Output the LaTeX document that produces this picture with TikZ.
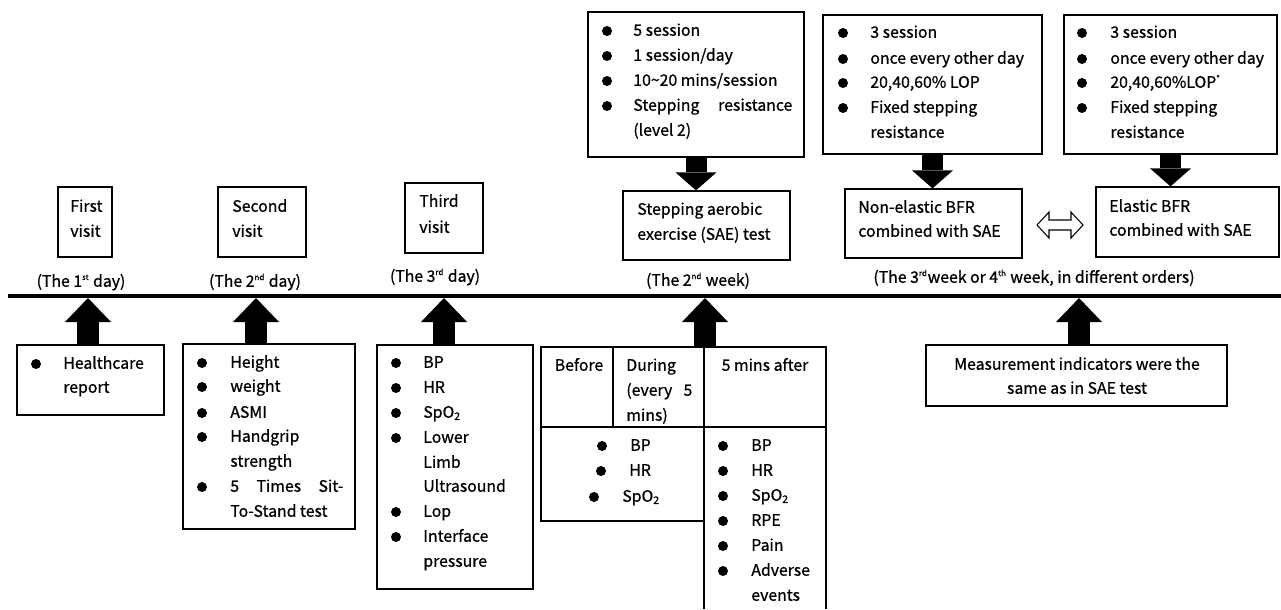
\documentclass[tikz,border=0pt]{standalone}
\usepackage{fontspec}
\setmainfont{Noto Sans CJK SC}[FakeBold=0.8]
\usetikzlibrary{arrows.meta,fit}

\tikzset{
  box/.style={draw, line width=0.7pt, inner sep=0pt},
  txt/.style={anchor=mid west, inner sep=0pt},
  lbl/.style={anchor=mid, inner sep=0pt},
  uparrow/.style={line width=0.44cm, -{Triangle[width=0.92cm, length=0.48cm, line width=0pt]}},
  downarrow/.style={line width=0.42cm, -{Triangle[width=0.82cm, length=0.36cm, line width=0pt]}},
}
\newcommand{\sups}[1]{\textsuperscript{\fontsize{4.5pt}{5pt}\selectfont #1}}

\begin{document}
\begin{tikzpicture}[x=0.02cm, y=-0.02cm, font=\fontsize{9pt}{14.2pt}\selectfont]
\useasboundingbox (0,0) rectangle (1281,609);

% Timeline
\coordinate (start) at (8,296);
\coordinate (end) at (1281,296);
\draw[line width=0.08cm] (start) -- (end);

% Points on the timeline
\coordinate (t1) at (88,298);
\coordinate (t2) at (256,298);
\coordinate (t3) at (444,298);
\coordinate (t4) at (705,298);
\coordinate (t5) at (1079,298);

% Dates
\node[lbl] (d1) at (81,282) {(The 1\sups{st} day)};
\node[lbl] (d2) at (255,282) {(The 2\sups{nd} day)};
\node[lbl] (d3) at (435,277) {(The 3\sups{rd} day)};
\node[lbl] (d4) at (698,281) {(The 2\sups{nd} week)};
\node[lbl] (d5) at (1034,278) {(The 3\sups{rd}week or 4\sups{th} week, in different orders)};

% Visits
\node[box, fit={(58,187) (112,257)}] (v1) {};
\node[txt] (v1-1) at (70,207) {First};
\node[txt] (v1-2) at (70,232) {visit};
\node[box, fit={(218,187) (306,257)}] (v2) {};
\node[txt] (v2-1) at (232,207) {Second};
\node[txt] (v2-2) at (232,232) {visit};
\node[box, fit={(405,183) (483,253)}] (v3) {};
\node[txt] (v3-1) at (419,202) {Third};
\node[txt] (v3-2) at (419,228) {visit};
\node[box, fit={(623,191) (790,260)}] (sae) {};
\node[txt] (sae-1) at (637,210) {Stepping aerobic};
\node[txt] (sae-2) at (637,235) {exercise (SAE) test};
\node[box, fit={(845,189) (1022,258)}] (ne) {};
\node[txt] (ne-1) at (858,208) {Non-elastic BFR};
\node[txt] (ne-2) at (858,232) {combined with SAE};
\node[box, fit={(1096,187) (1279,257)}] (el) {};
\node[txt] (el-1) at (1109,207) {Elastic BFR};
\node[txt] (el-2) at (1109,231) {combined with SAE};

% Exchange of the two BFR orders
\coordinate (sw) at (1060,225);
\draw[line width=0.6pt] (sw) ++(-23,0) -- ++(12,-13) -- ++(0,8) -- ++(22,0) -- ++(0,-8)
  -- ++(12,13) -- ++(-12,13) -- ++(0,-8) -- ++(-22,0) -- ++(0,8) -- cycle;

% Exercise plans
\node[box, fit={(588,12) (804,157)}] (plan1) {};
\foreach \y/\t [count=\i] in {31/{5 session}, 56/{1 session/day}, 81/{10\textasciitilde20 mins/session},
  106/{\makebox[3.18cm][s]{Stepping resistance}}}
{
  \fill (607,\y) circle (0.1cm);
  \node[txt] (p1-\i) at (633,\y) {\t};
}
\node[txt] (p1-5) at (633,131) {(level 2)};

\node[box, fit={(823,15) (1042,154)}] (plan2) {};
\foreach \y/\t [count=\i] in {33/{3 session}, 59/{once every other day}, 83/{20,40,60\% LOP}, 108/{Fixed stepping}}
{
  \fill (843,\y) circle (0.1cm);
  \node[txt] (p2-\i) at (870,\y) {\t};
}
\node[txt] (p2-5) at (870,133) {resistance};

\node[box, fit={(1064,15) (1277,154)}] (plan3) {};
\foreach \y/\t [count=\i] in {33/{3 session}, 59/{once every other day}, 83/{20,40,60\%LOP\sups{*}}, 108/{Fixed stepping}}
{
  \fill (1082,\y) circle (0.1cm);
  \node[txt] (p3-\i) at (1110,\y) {\t};
}
\node[txt] (p3-5) at (1110,133) {resistance};

\draw[downarrow] (plan1.south) -- (plan1.south |- sae.north);
\draw[downarrow] (plan2.south) -- (plan2.south |- ne.north);
\draw[downarrow] (plan3.south) -- (plan3.south |- el.north);

% First visit
\node[box, fit={(17,345) (164,415)}] (h1) {};
\fill (36,364) circle (0.1cm);
\node[txt] (h1-1) at (63,364) {Healthcare};
\node[txt] (h1-2) at (63,388) {report};

% Second visit
\node[box, fit={(183,344) (355,529)}] (h2) {};
\foreach \y/\t [count=\i] in {363/Height, 387/weight, 413/ASMI, 437/Handgrip, 487/{\makebox[2.26cm][s]{5 Times Sit-}}}
{
  \fill (202,\y) circle (0.1cm);
  \node[txt] (h2-\i) at (230,\y) {\t};
}
\node[txt] (h2-6) at (230,462) {strength};
\node[txt] (h2-7) at (230,512) {To-Stand test};

% Third visit
\node[box, fit={(377,345) (533,589)}] (h3) {};
\foreach \y/\t [count=\i] in {363/BP, 388/HR, 413/{SpO\textsubscript{2}}, 438/Lower, 512/Lop, 537/Interface}
{
  \fill (396,\y) circle (0.1cm);
  \node[txt] (h3-\i) at (423,\y) {\t};
}
\node[txt] (h3-7) at (423,463) {Limb};
\node[txt] (h3-8) at (423,487) {Ultrasound};
\node[txt] (h3-9) at (423,562) {pressure};

% SAE test measurements
\node[box, fit={(541,347) (826,427)}] (head) {};
\draw[line width=0.7pt] (613,347) -- (613,427);
\draw[line width=0.7pt] (704,347) -- (704,427);
\draw[line width=0.7pt] (541,427) rectangle (704,521);
\draw[line width=0.7pt] (704,427) -- (704,609);
\draw[line width=0.7pt] (826,427) -- (826,609);
\node[lbl] (before) at (579,366) {Before};
\node[txt] (during) at (626,366) {During};
\node[txt] (every) at (626,391) {\makebox[1.32cm][s]{(every 5}};
\node[txt] (mins) at (626,416) {mins)};
\node[lbl] (after) at (765,366) {5 mins after};

\foreach \x/\y/\t [count=\i] in {602/446/BP, 601/471/HR, 594/497/{SpO\textsubscript{2}}}
{
  \fill (\x,\y) circle (0.1cm);
  \node[txt] (m1-\i) at (\x+28,\y) {\t};
}
\foreach \y/\t [count=\i] in {446/BP, 471/HR, 496/{SpO\textsubscript{2}}, 521/RPE, 546/Pain, 571/Adverse}
{
  \fill (723,\y) circle (0.1cm);
  \node[txt] (m2-\i) at (751,\y) {\t};
}
\node[txt] (m2-7) at (751,596) {events};

% BFR measurements
\node[box, fit={(926,345) (1227,406)}] (meas) {};
\node[lbl] (meas-1) at (1077,365) {Measurement indicators were the};
\node[lbl] (meas-2) at (1077,389) {same as in SAE test};

% Arrows to the timeline
\draw[uparrow] (h1.north -| t1) -- (t1);
\draw[uparrow] (h2.north -| t2) -- (t2);
\draw[uparrow] (h3.north -| t3) -- (t3);
\draw[uparrow] (head.north -| t4) -- (t4);
\draw[uparrow] (meas.north -| t5) -- (t5);

\end{tikzpicture}
\end{document}
